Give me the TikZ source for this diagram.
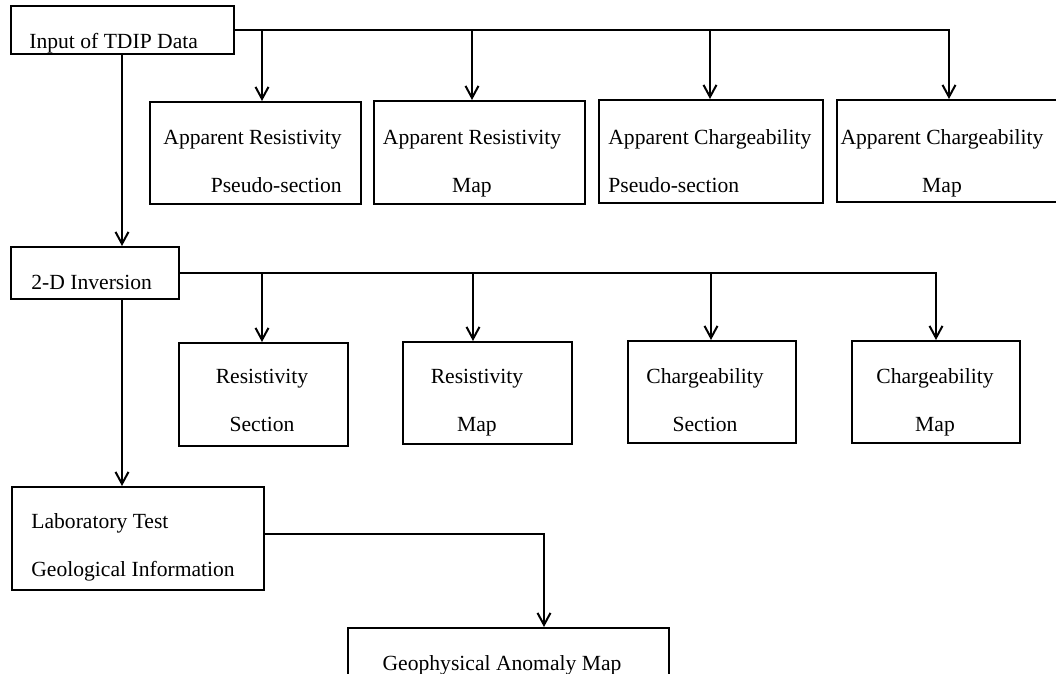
\documentclass[tikz,border=0pt]{standalone}
\usepackage{fontspec}
\setmainfont{Liberation Serif}
\usetikzlibrary{arrows.meta,calc}

\tikzset{
    box/.style={draw, line width=1pt, rectangle, inner sep=0pt},
    txt/.style={inner sep=0pt, font=\fontsize{10.8}{23.8}\selectfont},
    arr/.style={line width=1pt, -{Straight Barb[length=6pt,width=6.5pt,line width=1pt]}}
}

\begin{document}
\begin{tikzpicture}[x=0.5pt, y=-0.5pt]
    % --- page frame (pixel grid of the figure) ---
    \useasboundingbox (0,0) rectangle (1056,674);

    % --- input ---
    \node[box, minimum width=111.5pt, minimum height=24pt] (input) at (122.5,30) {};
    \node[txt, anchor=base west] (input-t) at (29,49) {Input of TDIP Data};

    % --- apparent quantities (row 1) ---
    \node[box, minimum width=105.5pt, minimum height=51pt] (arps) at (255.5,153) {};
    \node[box, minimum width=105.5pt, minimum height=51.5pt] (arm)  at (479.5,152.5) {};
    \node[box, minimum width=112pt, minimum height=51.5pt] (acps) at (711,151.5) {};
    \node[box, minimum width=112.5pt, minimum height=51pt] (acm)  at (949,151) {};

    % base = baseline of the last line
    \node[txt, anchor=base east, align=right] (arps-t) at (342,192) {Apparent Resistivity\\Pseudo-section};
    \node[txt, anchor=base, align=center] (arm-t) at (472,192) {Apparent Resistivity\\Map};
    \node[txt, anchor=base west, align=left] (acps-t) at (608,192) {Apparent Chargeability\\Pseudo-section};
    \node[txt, anchor=base, align=center] (acm-t) at (942,192) {Apparent Chargeability\\Map};

    % --- inversion ---
    \node[box, minimum width=84pt, minimum height=26pt] (inv) at (95,273) {};
    \node[txt, anchor=base west] (inv-t) at (31,289) {2-D Inversion};

    % --- inverted sections and maps (row 2) ---
    \node[box, minimum width=84.5pt, minimum height=51.5pt] (rs) at (263.5,394.5) {};
    \node[box, minimum width=84.5pt, minimum height=51pt] (rm) at (487.5,393) {};
    \node[box, minimum width=84pt, minimum height=51pt] (cs) at (712,392) {};
    \node[box, minimum width=84pt, minimum height=51pt] (cm) at (936,392) {};

    \node[txt, anchor=base, align=center] (rs-t) at (262,431) {Resistivity\\Section};
    \node[txt, anchor=base, align=center] (rm-t) at (477,431) {Resistivity\\Map};
    \node[txt, anchor=base, align=center] (cs-t) at (705,431) {Chargeability\\Section};
    \node[txt, anchor=base, align=center] (cm-t) at (935,431) {Chargeability\\Map};

    % --- interpretation ---
    \node[box, minimum width=126pt, minimum height=51.5pt] (lab) at (138,538.5) {};
    \node[txt, anchor=base west, align=left] (lab-t) at (31,576) {Laboratory Test\\Geological Information};

    \node[box, minimum width=160.5pt, minimum height=45pt] (geo) at (508.5,673) {};
    \node[txt, anchor=base] (geo-t) at (502,670) {Geophysical Anomaly Map};

    % --- connectors ---
    \coordinate (trunk) at ($(input.south)+(-0.5,0)$);
    \draw[arr] (input.east) -| (acm.north);
    \draw[arr] ($(input.east -| arps.north)+(6.5,0)$) -- ($(arps.north)+(6.5,0)$);
    \draw[arr] ($(input.east -| arm.north)+(-7.5,0)$) -- ($(arm.north)+(-7.5,0)$);
    \draw[arr] ($(input.east -| acps.north)+(-1,0)$) -- ($(acps.north)+(-1,0)$);
    \draw[arr] (trunk) -- (trunk |- inv.north);

    \draw[arr] (inv.east) -| (cm.north);
    \draw[arr] ($(inv.east -| rs.north)+(-1.5,0)$) -- ($(rs.north)+(-1.5,0)$);
    \draw[arr] ($(inv.east -| rm.north)+(-14.5,0)$) -- ($(rm.north)+(-14.5,0)$);
    \draw[arr] ($(inv.east -| cs.north)+(-1,0)$) -- ($(cs.north)+(-1,0)$);
    \draw[arr] (trunk |- inv.south) -- (trunk |- lab.north);

    \draw[arr] ($(lab.east)+(0,-4.5)$) -| ($(geo.north)+(35.5,0)$);
\end{tikzpicture}
\end{document}
